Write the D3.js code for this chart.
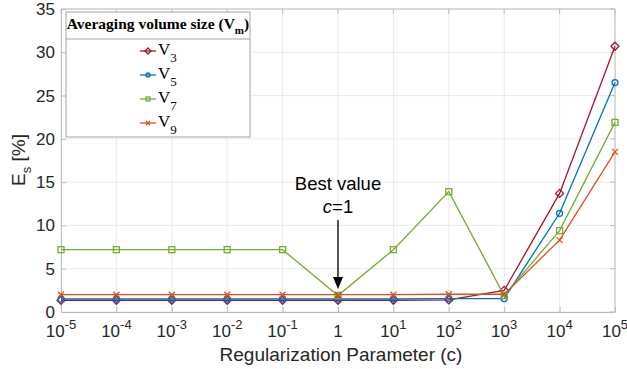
<!DOCTYPE html>
<html>
<head>
<meta charset="utf-8">
<script src="https://d3js.org/d3.v7.min.js"></script>
<style>
  body { margin: 0; background: #fff; }
  text { font-family: "Liberation Sans", Arial, sans-serif; }
</style>
</head>
<body>
<div id="chart"></div>
<script>
"use strict"

// x: exponents of 10 for c
var expoentes = [-5, -4, -3, -2, -1, 0, 1, 2, 3, 4, 5];
var nomes = ["3", "5", "7", "9"];
var v3 = [1.35, 1.35, 1.35, 1.35, 1.35, 1.35, 1.35, 1.4, 2.5, 13.7, 30.7];
var v5 = [1.5, 1.5, 1.5, 1.5, 1.5, 1.5, 1.5, 1.55, 1.55, 11.4, 26.5];
var v7 = [7.2, 7.2, 7.2, 7.2, 7.2, 1.9, 7.2, 13.9, 1.9, 9.4, 21.9];
var v9 = [2.0, 2.0, 2.0, 2.0, 2.0, 2.0, 2.0, 2.05, 2.05, 8.3, 18.5];
var yTicks = [0, 5, 10, 15, 20, 25, 30, 35];

var cores = ["#A2142F", "#0072BD", "#77AC30", "#D95319"];
var marcadores = ["diamond", "circle", "square", "x"];
var series = [v3, v5, v7, v9];

var larguraSVG = 627, alturaSVG = 369;
var margin = {top: 9, right: 12, bottom: 57, left: 61},
    larguraVis = larguraSVG - margin.left - margin.right,
    alturaVis = alturaSVG - margin.top - margin.bottom;

var svg = d3.select('#chart').append('svg')
    .attr('width', larguraSVG).attr('height', alturaSVG);
var g = svg.append('g').attr('transform', 'translate(' + margin.left + ',' + margin.top + ')');

var x = d3.scaleLinear().domain([-5, 5]).range([0, larguraVis]);
var y = d3.scaleLinear().domain([0, 35]).range([alturaVis, 0]);

// grid
g.selectAll('.gx').data(expoentes).enter().append('line')
  .attr('x1', d => x(d)).attr('x2', d => x(d)).attr('y1', 0).attr('y2', alturaVis)
  .attr('stroke', '#ebebeb').attr('stroke-width', 1);
g.selectAll('.gy').data(yTicks).enter().append('line')
  .attr('x1', 0).attr('x2', larguraVis).attr('y1', d => y(d)).attr('y2', d => y(d))
  .attr('stroke', '#ebebeb').attr('stroke-width', 1);

// axes (ticks inside)
var eixoX = g.append('g').attr('transform', 'translate(0,' + alturaVis + ')')
  .call(d3.axisBottom(x).tickValues(expoentes).tickSizeInner(-5).tickSizeOuter(0).tickFormat(''));
var eixoY = g.append('g')
  .call(d3.axisLeft(y).tickValues(yTicks).tickSizeInner(-5).tickSizeOuter(0).tickPadding(6));
[eixoX, eixoY].forEach(function(e) {
  e.selectAll('path, line').attr('stroke', '#bdbdbd');
});
eixoY.selectAll('text').attr('font-size', 17).attr('fill', '#262626')
  .style('font-family', '"Liberation Sans", Arial, sans-serif');
// top and right box lines
g.append('line').attr('x1', 0).attr('x2', larguraVis).attr('y1', 0).attr('y2', 0).attr('stroke', '#bdbdbd');
g.append('line').attr('x1', larguraVis).attr('x2', larguraVis).attr('y1', 0).attr('y2', alturaVis).attr('stroke', '#bdbdbd');
g.selectAll('.tt').data(expoentes).enter().append('line')
  .attr('x1', d => x(d)).attr('x2', d => x(d)).attr('y1', 0).attr('y2', 5).attr('stroke', '#bdbdbd');
g.selectAll('.tr').data(yTicks).enter().append('line')
  .attr('x1', larguraVis - 5).attr('x2', larguraVis).attr('y1', d => y(d)).attr('y2', d => y(d)).attr('stroke', '#bdbdbd');

// x tick labels: 10^n
var rotX = g.selectAll('.xl').data(expoentes).enter().append('text')
  .attr('x', d => x(d)).attr('y', alturaVis + 25)
  .attr('text-anchor', 'middle').attr('font-size', 17).attr('fill', '#262626');
rotX.each(function(d) {
  var t = d3.select(this);
  if (d === 0) { t.text('1'); return; }
  t.append('tspan').text('10');
  t.append('tspan').attr('dy', -8).attr('font-size', 13).text(d);
});

// labels
svg.append('text').attr('x', margin.left + larguraVis / 2 + 3).attr('y', 361)
  .attr('text-anchor', 'middle').attr('font-size', 19).attr('fill', '#262626')
  .text('Regularization Parameter (c)');
var ylab = svg.append('text').attr('transform', 'translate(25,160) rotate(-90)')
  .attr('text-anchor', 'middle').attr('font-size', 19).attr('fill', '#262626');
ylab.append('tspan').text('E');
ylab.append('tspan').attr('dy', 6).attr('font-size', 13).text('s');
ylab.append('tspan').attr('dy', -6).text(' [%]');

// lines and markers
var linha = d3.line().x((d, i) => x(expoentes[i])).y(d => y(d));

function desenhaMarcador(sel, tipo, cor, s) {
  if (tipo === 'circle') {
    sel.append('circle').attr('r', s).attr('fill', 'none').attr('stroke', cor).attr('stroke-width', 1.3);
  } else if (tipo === 'square') {
    sel.append('rect').attr('x', -s).attr('y', -s).attr('width', 2 * s).attr('height', 2 * s)
      .attr('fill', 'none').attr('stroke', cor).attr('stroke-width', 1.3);
  } else if (tipo === 'diamond') {
    sel.append('path').attr('d', 'M0,' + (-s - 1) + 'L' + (s + 1) + ',0L0,' + (s + 1) + 'L' + (-s - 1) + ',0Z')
      .attr('fill', 'none').attr('stroke', cor).attr('stroke-width', 1.3);
  } else {
    sel.append('path').attr('d', 'M' + (-s) + ',' + (-s) + 'L' + s + ',' + s + 'M' + (-s) + ',' + s + 'L' + s + ',' + (-s))
      .attr('fill', 'none').attr('stroke', cor).attr('stroke-width', 1.3);
  }
}

// MATLAB draws V3 first, later on top
series.forEach(function(serie, k) {
  g.append('path').datum(serie).attr('d', linha)
    .attr('fill', 'none').attr('stroke', cores[k]).attr('stroke-width', 1.3);
  serie.forEach(function(v, i) {
    var m = g.append('g').attr('transform', 'translate(' + x(expoentes[i]) + ',' + y(v) + ')');
    desenhaMarcador(m, marcadores[k], cores[k], 3);
  });
});

// annotation
var xa = margin.left + x(0);
svg.append('text').attr('x', xa).attr('y', 190).attr('text-anchor', 'middle')
  .attr('font-size', 18.5).attr('fill', '#000').text('Best value');
var cTxt = svg.append('text').attr('x', xa).attr('y', 213).attr('text-anchor', 'middle')
  .attr('font-size', 18.5).attr('fill', '#000');
cTxt.append('tspan').attr('font-style', 'italic').text('c');
cTxt.append('tspan').text('=1');
svg.append('line').attr('x1', xa).attr('x2', xa).attr('y1', 220).attr('y2', 280)
  .attr('stroke', '#000').attr('stroke-width', 1.3);
svg.append('path').attr('d', 'M' + (xa - 5) + ',277L' + (xa + 5) + ',277L' + xa + ',289Z').attr('fill', '#000');

// legend
var leg = svg.append('g');
leg.append('rect').attr('x', 66).attr('y', 12).attr('width', 184).attr('height', 125)
  .attr('fill', '#fff').attr('stroke', '#a6a6a6').attr('stroke-width', 1);
leg.append('line').attr('x1', 66).attr('x2', 250).attr('y1', 39).attr('y2', 39)
  .attr('stroke', '#a6a6a6').attr('stroke-width', 1);
var tit = leg.append('text').attr('x', 158).attr('y', 29).attr('text-anchor', 'middle')
  .attr('font-size', 15.5).attr('font-weight', 'bold').attr('fill', '#000')
  .style('font-family', '"Liberation Serif", "Times New Roman", serif');
tit.append('tspan').text('Averaging volume size (V');
tit.append('tspan').attr('dy', 5).attr('font-size', 11).text('m');
tit.append('tspan').attr('dy', -5).text(')');

nomes.forEach(function(n, k) {
  var yy = 51 + k * 24;
  leg.append('line').attr('x1', 140).attr('x2', 156).attr('y1', yy).attr('y2', yy)
    .attr('stroke', cores[k]).attr('stroke-width', 1.3);
  var m = leg.append('g').attr('transform', 'translate(148,' + yy + ')');
  desenhaMarcador(m, marcadores[k], cores[k], 2);
  var t = leg.append('text').attr('x', 158).attr('y', yy + 4).attr('font-size', 17).attr('fill', '#000')
    .style('font-family', '"Liberation Serif", "Times New Roman", serif');
  t.append('tspan').text('V');
  t.append('tspan').attr('dy', 7).attr('font-size', 13).text(n);
});
</script>
</body>
</html>
